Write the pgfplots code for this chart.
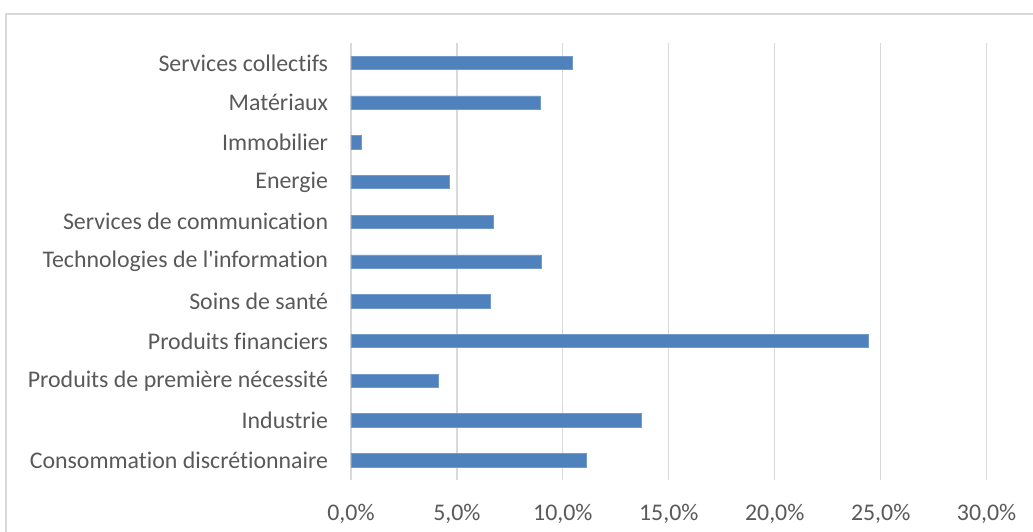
\documentclass[border=0pt]{standalone}
\usepackage{pgfplots}
\pgfplotsset{compat=1.18}
\usepackage{fontspec}
\setmainfont{Carlito}
\newfontfamily\labfont{Carlito}[Ligatures={NoCommon}]

\definecolor{barblue}{HTML}{4F81BD}
\definecolor{txtgray}{HTML}{595959}
\definecolor{gridgray}{HTML}{D9D9D9}

\begin{document}
\begin{tikzpicture}
% picture size: 1033 x 532 px at 0.75pt per px, origin = axis corner
\useasboundingbox (-263.25pt,-39pt) rectangle (511.5pt,360pt);
\draw[gridgray, line width=0.9pt] (-258.75pt,-60pt) -- (-258.75pt,349.5pt) -- (530pt,349.5pt);
\begin{axis}[
    at={(0pt,0pt)}, anchor=south west,
    scale only axis,
    width=476.7pt,
    height=327.75pt,
    xbar,
    bar width=10pt,
    xmin=0, xmax=30,
    ymin=-0.5, ymax=10.5,
    xtick={0,5,...,30},
    xticklabels={0{,}0\%,5{,}0\%,10{,}0\%,15{,}0\%,20{,}0\%,25{,}0\%,30{,}0\%},
    ytick={0,...,10},
    yticklabels={Consommation discrétionnaire,Industrie,Produits de première nécessité,Produits financiers,Soins de santé,Technologies de l'information,Services de communication,Energie,Immobilier,Matériaux,Services collectifs},
    xmajorgrids=true,
    grid style={gridgray, line width=0.9pt},
    axis line style={draw=none},
    major tick length=0pt,
    tick label style={font=\labfont\fontsize{17.9}{21}\selectfont, text=txtgray},
    xticklabel style={inner sep=0pt, anchor=north, yshift=-18pt},
    yticklabel style={inner sep=0pt, anchor=east, xshift=-17pt},
    /pgf/number format/assume math mode=true,
]
\draw[gridgray, line width=0.9pt] (axis cs:0,-0.5) -- (axis cs:0,10.5);
\addplot[fill=barblue, draw=barblue!80!white, line width=0.4pt] coordinates {
    (11.12,0)
    (13.69,1)
    (4.12,2)
    (24.40,3)
    (6.57,4)
    (8.98,5)
    (6.71,6)
    (4.64,7)
    (0.47,8)
    (8.92,9)
    (10.46,10)
};
\end{axis}
\end{tikzpicture}
\end{document}
